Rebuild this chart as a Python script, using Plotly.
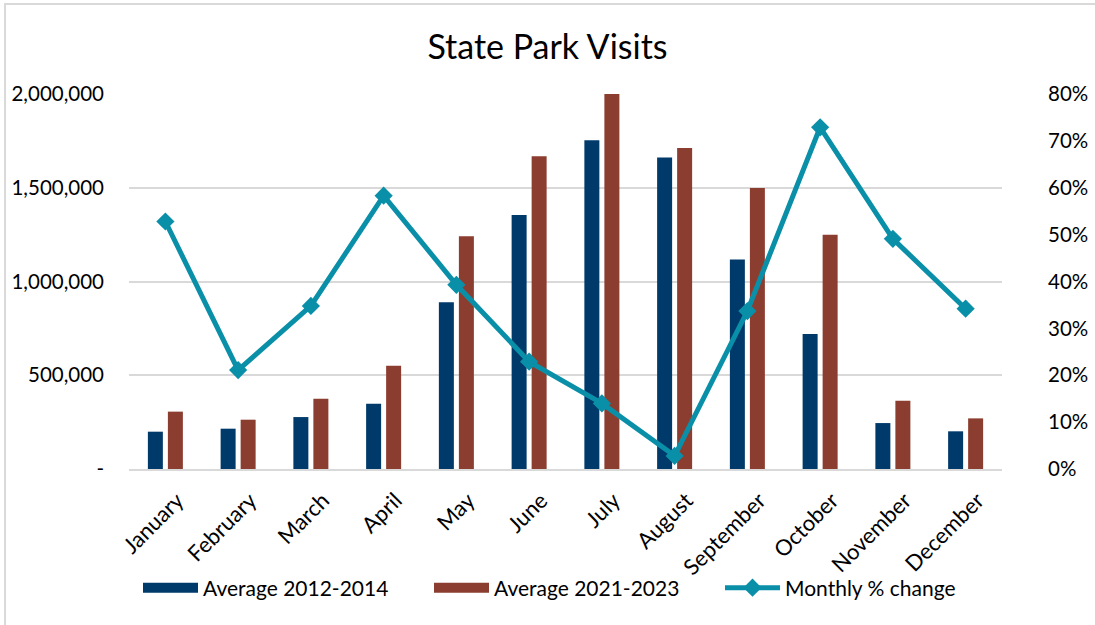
import plotly.graph_objects as go

months = ["January", "February", "March", "April", "May", "June", "July",
          "August", "September", "October", "November", "December"]
avg_2012_2014 = [199000, 215000, 277000, 348000, 889000, 1355000, 1753000,
                 1662000, 1118000, 720000, 245000, 201000]
avg_2021_2023 = [306000, 263000, 375000, 551000, 1241000, 1668000, 2000000,
                 1712000, 1499000, 1250000, 364000, 270000]
pct_change = [0.528, 0.211, 0.348, 0.583, 0.393, 0.229, 0.140,
              0.028, 0.337, 0.729, 0.491, 0.342]

left_ticks = [0, 500000, 1000000, 1500000, 2000000]
left_labels = ["-", "500,000", "1,000,000", "1,500,000", "2,000,000"]
right_ticks = [0, 0.1, 0.2, 0.3, 0.4, 0.5, 0.6, 0.7, 0.8]
right_labels = ["0%", "10%", "20%", "30%", "40%", "50%", "60%", "70%", "80%"]

FONT = "Lato"
navy = "#003A6B"
brown = "#8B3E2F"
teal = "#0A8FA8"

fig = go.Figure()
fig.add_trace(go.Bar(x=months, y=avg_2012_2014, name="Average 2012-2014",
                     legendgroup="a", showlegend=False,
                     marker=dict(color=navy, line=dict(width=0))))
fig.add_trace(go.Bar(x=months, y=avg_2021_2023, name="Average 2021-2023",
                     legendgroup="b", showlegend=False,
                     marker=dict(color=brown, line=dict(width=0))))
# legend-only swatches (wide rectangles like the original legend keys)
fig.add_trace(go.Scatter(x=[months[0]], y=[None], name="Average 2012-2014",
                         legendgroup="a", mode="lines", hoverinfo="skip",
                         line=dict(color=navy, width=13)))
fig.add_trace(go.Scatter(x=[months[0]], y=[None], name="Average 2021-2023",
                         legendgroup="b", mode="lines", hoverinfo="skip",
                         line=dict(color=brown, width=13)))
fig.add_trace(go.Scatter(x=months, y=pct_change, name="Monthly % change",
                         yaxis="y2", mode="lines+markers",
                         line=dict(color=teal, width=5),
                         marker=dict(symbol="diamond", size=14, color=teal)))

fig.update_layout(
    width=1095, height=625,
    margin=dict(l=129, r=93, t=94, b=156, autoexpand=False),
    paper_bgcolor="white", plot_bgcolor="white",
    font=dict(family=FONT, size=20, color="#000000"),
    title=dict(text="State Park Visits", x=0.5, xanchor="center",
               y=1 - 47 / 625, yanchor="middle",
               font=dict(family=FONT, size=34, color="#000000")),
    barmode="group", bargap=0.45, bargroupgap=0.25,
    showlegend=True,
    legend=dict(orientation="h", xref="container", yref="container",
                x=138 / 1095, xanchor="left", y=1 - 588 / 625, yanchor="middle",
                font=dict(family=FONT, size=21), entrywidth=221, itemwidth=55,
                entrywidthmode="pixels", traceorder="normal",
                bgcolor="rgba(0,0,0,0)"),
    xaxis=dict(tickangle=-45, showgrid=False, showline=True,
               range=[-0.5, len(months) - 0.5],
               linecolor="#D9D9D9", linewidth=2, ticks="", automargin=False,
               ticklabelshift=12, ticklabelstandoff=8,
               tickfont=dict(family=FONT, size=22)),
    yaxis=dict(range=[0, 2000000], tickvals=left_ticks, ticktext=left_labels,
               showgrid=True, gridcolor="#D9D9D9", gridwidth=2, automargin=False,
               zeroline=False, ticks="", ticklabelstandoff=24,
               tickfont=dict(family=FONT, size=20.5)),
    yaxis2=dict(range=[0, 0.8], tickvals=right_ticks, ticktext=right_labels,
                overlaying="y", side="right", showgrid=False, zeroline=False,
                ticks="", ticklabelstandoff=45, automargin=False,
                tickfont=dict(family=FONT, size=20.5)),
    shapes=[dict(type="rect", xref="paper", yref="paper",
                 x0=-0.142, x1=1.5, y0=-0.8, y1=1.24,
                 line=dict(color="#D9D9D9", width=2), fillcolor="rgba(0,0,0,0)",
                 layer="below")],
)

fig.write_html("out.html", config={"displayModeBar": False},
               post_script="document.body.style.margin='0px';")
